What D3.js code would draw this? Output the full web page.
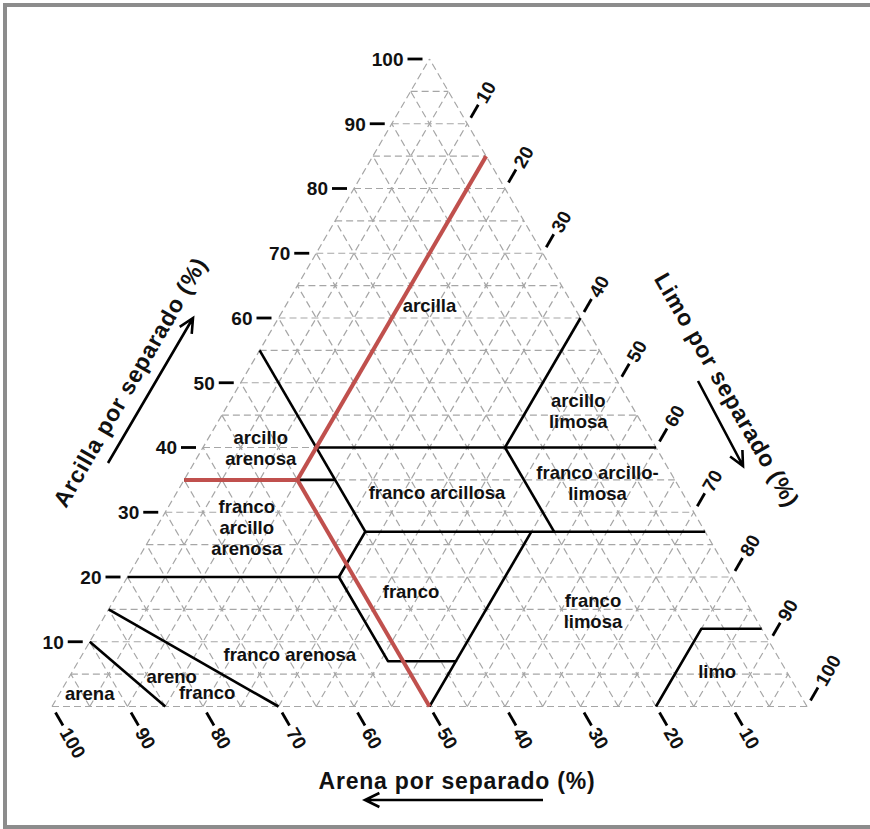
<!DOCTYPE html>
<html>
<head>
<meta charset="utf-8">
<script src="https://cdn.jsdelivr.net/npm/d3@7"></script>
<style>
  body { margin: 0; background: #fff; }
  svg text { font-family: 'Liberation Sans', Arial, sans-serif; fill: #111; }
</style>
</head>
<body>
<div id="chart"></div>
<script>
// every point is [arena, arcilla]; limo is what is left over
var ticks = [10, 20, 30, 40, 50, 60, 70, 80, 90, 100];
var gridSteps = d3.range(0, 101, 5);

// USDA class borders
var boundaries = [
  [[90, 10], [85, 0]],
  [[85, 15], [70, 0]],
  [[80, 20], [52, 20], [52, 7], [43, 7], [50, 0]],
  [[43, 7], [23, 27]],
  [[52, 20], [45, 27], [0, 27]],
  [[45, 55], [45, 27]],
  [[65, 35], [45, 35]],
  [[45, 40], [0, 40]],
  [[20, 40], [20, 27]],
  [[20, 40], [0, 60]],
  [[20, 0], [8, 12], [0, 12]]
];

// the red guide lines, drawn from one sample
var sample = [50, 35];
var sampleEnds = [[65, 35], [0, 85], [50, 0]];

var classNames = [
  ['arcilla'],
  ['arcillo', 'arenosa'],
  ['arcillo', 'limosa'],
  ['franco arcillosa'],
  ['franco arcillo-', 'limosa'],
  ['franco', 'arcillo', 'arenosa'],
  ['franco'],
  ['franco', 'limosa'],
  ['franco arenosa'],
  ['areno'],
  ['franco'],
  ['arena'],
  ['limo']
];
var classAt = [
  [19, 62], [52.4, 39.9], [7.5, 45.6], [32.5, 33], [10.5, 34.5], [60.4, 27.6],
  [43.6, 17.7], [21, 14.7], [64.5, 8], [81.8, 4.7], [78.4, 2.1], [94, 2], [9.2, 5.4]
];

var width = 870, height = 829;

var xs = d3.scaleLinear().domain([0, 100]).range([52, 807]);
var ys = d3.scaleLinear().domain([0, 100]).range([706.5, 59]);

px = p => xs(100 - p[0] - p[1] / 2);
py = p => ys(p[1]);

var line = d3.line().x(px).y(py);

var svg = d3.select('#chart').append('svg')
  .attr('width', width)
  .attr('height', height);

// frame round the picture
svg.append('rect')
  .attr('x', 5).attr('y', 5)
  .attr('width', 900).attr('height', 822)
  .attr('fill', 'none')
  .attr('stroke', '#8c8c8c')
  .attr('stroke-width', 4);

// dashed grid, three directions
var gridLines = [];
gridSteps.forEach(v => {
  gridLines.push([[100 - v, v], [0, v]]);      // arcilla
  gridLines.push([[v, 0], [v, 100 - v]]);      // arena
  gridLines.push([[100 - v, 0], [0, 100 - v]]); // limo
});

svg.append('g')
  .attr('class', 'grid')
  .selectAll('path')
  .data(gridLines)
  .enter().append('path')
    .attr('d', line)
    .attr('fill', 'none')
    .attr('stroke', '#a6a6a6')
    .attr('stroke-width', 1.2)
    .attr('stroke-dasharray', '7,4');

svg.append('g')
  .attr('class', 'borders')
  .selectAll('path')
  .data(boundaries)
  .enter().append('path')
    .attr('d', line)
    .attr('fill', 'none')
    .attr('stroke', '#000')
    .attr('stroke-width', 2.6)
    .attr('stroke-linejoin', 'round');

svg.append('g')
  .attr('class', 'labels')
  .selectAll('text')
  .data(classNames)
  .enter().append('text')
    .attr('text-anchor', 'middle')
    .style('font-size', '18.5px')
    .style('font-weight', 'bold')
    .attr('fill', '#1a1a1a')
    .each(function(d, i) {
      var x = px(classAt[i]), y = py(classAt[i]);
      var top = y - (d.length - 1) * 21 / 2;
      d3.select(this).selectAll('tspan')
        .data(d)
        .enter().append('tspan')
          .attr('x', x)
          .attr('y', (t, j) => top + j * 21)
          .attr('dy', '0.35em')
          .text(t => t);
    });

// red guide
svg.append('g')
  .attr('class', 'guide')
  .selectAll('path')
  .data(sampleEnds)
  .enter().append('path')
    .attr('d', d => line([sample, d]))
    .attr('stroke', '#c0504d')
    .attr('stroke-width', 4)
    .attr('stroke-linecap', 'butt');

// ticks on the three sides
var sides = [
  {pt: t => [100 - t, t], dx: -1, dy: 0, rot: 0, anchor: 'end'},
  {pt: t => [0, 100 - t], dx: 0.5, dy: -0.866, rot: -60, anchor: 'start'},
  {pt: t => [t, 0], dx: 0.5, dy: 0.866, rot: 60, anchor: 'start'}
];

sides.forEach(s => {
  var g = svg.append('g').attr('class', 'ticks');
  g.selectAll('line')
    .data(ticks)
    .enter().append('line')
      .attr('x1', t => px(s.pt(t)) + s.dx * 7)
      .attr('y1', t => py(s.pt(t)) + s.dy * 7)
      .attr('x2', t => px(s.pt(t)) + s.dx * 22)
      .attr('y2', t => py(s.pt(t)) + s.dy * 22)
      .attr('stroke', '#000')
      .attr('stroke-width', 2.8);
  g.selectAll('text')
    .data(ticks)
    .enter().append('text')
      .attr('transform', t => {
        var x = px(s.pt(t)) + s.dx * 26, y = py(s.pt(t)) + s.dy * 26;
        return 'translate(' + x + ',' + y + ') rotate(' + s.rot + ')';
      })
      .attr('text-anchor', s.anchor)
      .attr('dy', '0.36em')
      .style('font-size', '19px')
      .style('font-weight', 'bold')
      .text(t => t);
});

// axis titles + arrows
arrow = (x1, y1, x2, y2) => {
  var a = Math.atan2(y2 - y1, x2 - x1), h = 16, w = 0.45;
  var p = d3.path();
  p.moveTo(x1, y1); p.lineTo(x2, y2);
  p.moveTo(x2 - h * Math.cos(a - w), y2 - h * Math.sin(a - w));
  p.lineTo(x2, y2);
  p.lineTo(x2 - h * Math.cos(a + w), y2 - h * Math.sin(a + w));
  svg.append('path')
    .attr('d', p.toString())
    .attr('fill', 'none')
    .attr('stroke', '#000')
    .attr('stroke-width', 2.6);
};

title = (txt, x, y, rot) => {
  svg.append('text')
    .attr('transform', 'translate(' + x + ',' + y + ') rotate(' + rot + ')')
    .attr('text-anchor', 'middle')
    .style('font-size', '23px')
    .style('font-weight', 'bold')
    .style('letter-spacing', '0.8px')
    .text(txt);
};

title('Arcilla por separado (%)', 137, 386, -60);
arrow(108, 463, 193, 318);

title('Limo por separado (%)', 720, 394, 60);
arrow(698, 381, 743, 466);

title('Arena por separado (%)', 457, 789, 0);
arrow(543, 800, 365, 800);
</script>
</body>
</html>
